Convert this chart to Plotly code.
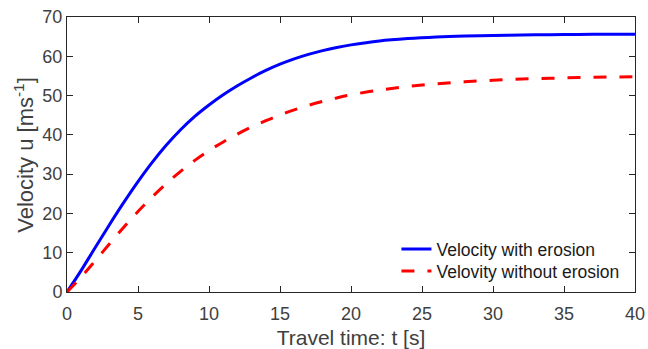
import plotly.graph_objects as go

t_blue = [0, 1, 2, 3, 4, 5, 6, 7, 8, 9, 10, 11, 12, 13, 14, 15, 16, 17, 18, 19, 20,
          22, 24, 26, 28, 30, 32, 34, 36, 38, 40]
u_erosion = [0, 5.5, 11.4, 17.2, 22.8, 28.1, 33.0, 37.4, 41.3, 44.7, 47.6, 50.2, 52.5,
             54.55, 56.4, 58.0, 59.35, 60.5, 61.45, 62.25, 62.9, 63.9, 64.5, 64.9, 65.15,
             65.3, 65.4, 65.5, 65.55, 65.6, 65.6]
t_red = t_blue
u_no_erosion = [0, 3.8, 8.0, 12.3, 16.5, 20.5, 24.2, 27.6, 30.7, 33.5, 36.0, 38.2, 40.2,
                42.0, 43.6, 45.05, 46.35, 47.5, 48.5, 49.4, 50.2, 51.4, 52.3, 53.0, 53.5,
                53.9, 54.2, 54.4, 54.6, 54.7, 54.8]

x_ticks = [0, 5, 10, 15, 20, 25, 30, 35, 40]
y_ticks = [0, 10, 20, 30, 40, 50, 60, 70]

font_family = "Liberation Sans, Arial, Helvetica, sans-serif"
txt = "#404040"
axc = "#262626"

fig = go.Figure()
fig.add_trace(go.Scatter(x=t_blue, y=u_erosion, mode="lines", line_shape="spline",
                         name="Velocity with erosion", legend="legend",
                         line=dict(color="#0000ff", width=3)))
fig.add_trace(go.Scatter(x=t_red, y=u_no_erosion, mode="lines", line_shape="spline",
                         name="Velovity without erosion", legend="legend2",
                         line=dict(color="#ff0000", width=3, dash="13px,13px")))

axis_common = dict(showline=True, linecolor=axc, linewidth=1, mirror="ticks",
                   ticks="inside", ticklen=6, tickcolor=axc, showgrid=False,
                   zeroline=False, automargin=False, ticklabeloverflow="allow",
                   tickfont=dict(size=18, color=txt, family=font_family))

fig.update_xaxes(range=[0, 40], tickvals=x_ticks, ticklabelstandoff=5,
                 title=dict(text="Travel time: t [s]", font=dict(size=21, color=txt, family=font_family),
                            standoff=8),
                 **axis_common)
fig.update_yaxes(range=[0, 70], tickvals=y_ticks, **axis_common)

fig.add_annotation(text="Velocity u [ms<sup>-1</sup>]", xref="paper", yref="paper",
                   x=-0.077, y=0.5, xanchor="center", yanchor="middle",
                   textangle=-90, showarrow=False,
                   font=dict(size=22, color=txt, family=font_family))

leg_common = dict(xanchor="left", yanchor="middle", bgcolor="rgba(255,255,255,0)",
                  borderwidth=0, itemwidth=30,
                  font=dict(size=17.5, color="#1a1a1a", family=font_family))

fig.update_layout(
    width=648, height=349,
    margin=dict(l=67, r=13, t=17, b=57),
    plot_bgcolor="white", paper_bgcolor="white",
    font=dict(family=font_family, color=txt),
    legend=dict(x=0.58, y=0.156, **leg_common),
    legend2=dict(x=0.58, y=0.076, **leg_common),
    showlegend=True,
)

fig.write_html(
    "out.html",
    config={"displayModeBar": False},
    post_script=(
        "document.body.style.margin='0';"
        "document.body.style.overflow='hidden';"
        "document.documentElement.style.overflow='hidden';"
    ),
)
